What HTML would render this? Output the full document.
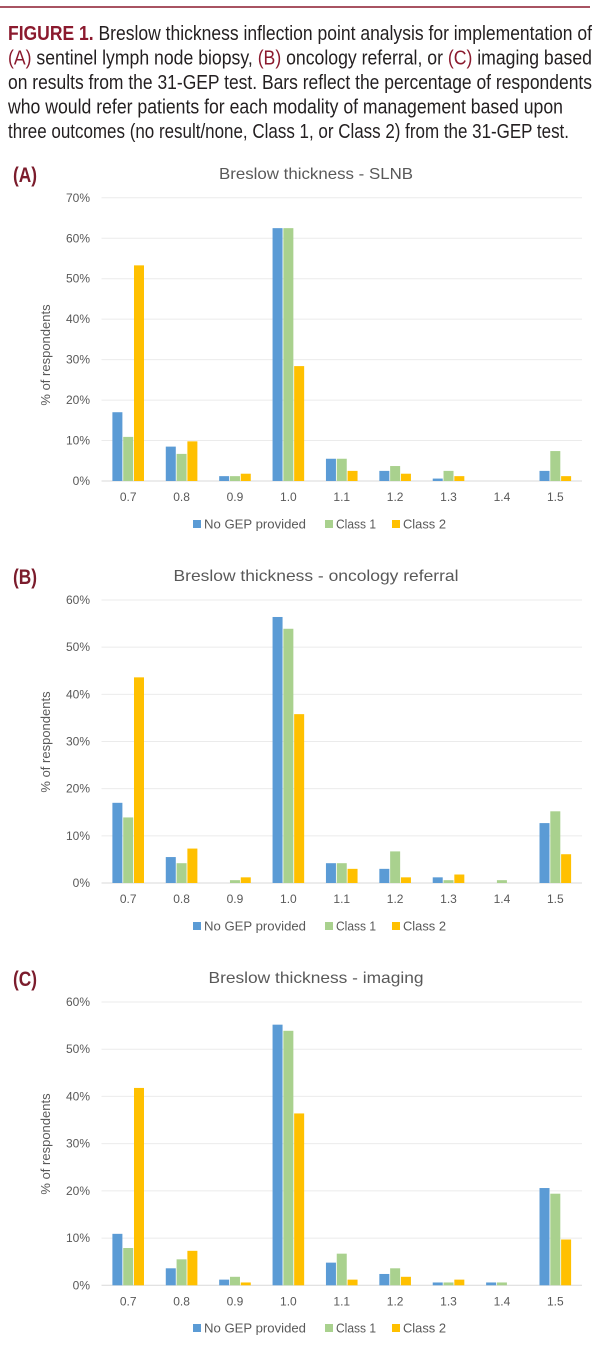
<!DOCTYPE html>
<html><head><meta charset="utf-8"><style>
html,body{margin:0;padding:0;background:#fff;}
svg{display:block;font-family:"Liberation Sans",sans-serif;}
</style></head><body>
<svg id="root" width="600" height="1348" viewBox="0 0 600 1348">
<line x1="0" y1="7" x2="590" y2="7" stroke="#8b1a2e" stroke-width="1.5"/>
<g font-size="20" fill="#231f20">
<text x="8" y="40" textLength="584" lengthAdjust="spacingAndGlyphs"><tspan fill="#8b1a2e" font-weight="bold">FIGURE 1.</tspan> Breslow thickness inflection point analysis for implementation of</text>
<text x="8" y="64.5" textLength="584" lengthAdjust="spacingAndGlyphs"><tspan fill="#8b1a2e">(A)</tspan> sentinel lymph node biopsy, <tspan fill="#8b1a2e">(B)</tspan> oncology referral, or <tspan fill="#8b1a2e">(C)</tspan> imaging based</text>
<text x="8" y="89" textLength="584" lengthAdjust="spacingAndGlyphs">on results from the 31-GEP test. Bars reflect the percentage of respondents</text>
<text x="8" y="113.5" textLength="555" lengthAdjust="spacingAndGlyphs">who would refer patients for each modality of management based upon</text>
<text x="8" y="138" textLength="561" lengthAdjust="spacingAndGlyphs">three outcomes (no result/none, Class 1, or Class 2) from the 31-GEP test.</text>
</g>
</svg>
<script>
const categories = ["0.7","0.8","0.9","1.0","1.1","1.2","1.3","1.4","1.5"];
const seriesNames = ["No GEP provided","Class 1","Class 2"];
const colors = ["#5b9bd5","#a9d18e","#ffc000"];
const slnbNoGep = [17,8.5,1.2,62.5,5.5,2.5,0.6,0,2.5];
const slnbClass1 = [10.9,6.7,1.2,62.5,5.5,3.7,2.5,0,7.4];
const slnbClass2 = [53.3,9.8,1.8,28.4,2.5,1.8,1.2,0,1.2];
const oncoNoGep = [17,5.5,0,56.4,4.2,3,1.2,0,12.7];
const oncoClass1 = [13.9,4.2,0.6,53.9,4.2,6.7,0.6,0.6,15.2];
const oncoClass2 = [43.6,7.3,1.2,35.8,3,1.2,1.8,0,6.1];
const imgNoGep = [10.9,3.6,1.2,55.2,4.8,2.4,0.6,0.6,20.6];
const imgClass1 = [7.9,5.5,1.8,53.9,6.7,3.6,0.6,0.6,19.4];
const imgClass2 = [41.8,7.3,0.6,36.4,1.2,1.8,1.2,0,9.7];
const ticksA = [0,10,20,30,40,50,60,70];
const ticksBC = [0,10,20,30,40,50,60];

const NS="http://www.w3.org/2000/svg";
const root=document.getElementById('root');
function mk(tag,attrs,parent,txt){const e=document.createElementNS(NS,tag);for(const k in attrs)e.setAttribute(k,attrs[k]);if(txt!==undefined)e.textContent=txt;parent.appendChild(e);return e;}

function chart(o){
  const g=mk('g',{},root);
  
  
  const L=101.5,R=582,step=(R-L)/categories.length;
  const maxV=o.ticks[o.ticks.length-1];
  const y=v=>o.y0-(v/maxV)*(o.y0-o.yTop);
  const x=i=>L+step*(i+0.5);
  const lab=mk('text',{x:13,y:o.labelY,'font-size':21,'font-weight':'bold',fill:'#7b1c2c',textLength:24,lengthAdjust:'spacingAndGlyphs'},g,o.letter);
  
  
  const t=mk('text',{x:316,y:o.titleY,'font-size':16,fill:'#595959','text-anchor':'middle',textLength:o.titleW,lengthAdjust:'spacingAndGlyphs'},g,o.title);
  
  
  o.ticks.forEach(v=>{
    const gl=mk('line',{x1:L,x2:R,y1:y(v),y2:y(v),stroke:v===0?'#d9d9d9':'#ebebeb','stroke-width':1},g);
    
    
    const tl=mk('text',{x:90,y:y(v)+4,'font-size':12,fill:'#595959','text-anchor':'end'},g,v+'%');
    
    
  });
  const yt=mk('text',{transform:`translate(50,${o.axisTitleY}) rotate(-90)`,'font-size':13,fill:'#595959','text-anchor':'middle'},g,'% of respondents');
  
  
  const bw=10,gap=0.8;
  o.series.forEach((s,si)=>{
    s.forEach((v,i)=>{
      if(v<=0)return;
      const bx=x(i)+(si-1)*(bw+gap)-bw/2;
      const r=mk('rect',{x:bx,y:y(v),width:bw,height:o.y0-y(v),fill:colors[si]},g);
      
      
    });
  });
  categories.forEach((c,i)=>{
    const xl=mk('text',{x:x(i),y:o.y0+20,'font-size':12,fill:'#595959','text-anchor':'middle'},g,c);
    
    
  });
  const lx=[193,325,392],lw=[102,40,43];
  seriesNames.forEach((n,i)=>{
    const sq=mk('rect',{x:lx[i],y:o.legendY-4,width:8,height:8,fill:colors[i]},g);
    
    
    const lt=mk('text',{x:lx[i]+11,y:o.legendY+4.5,'font-size':13,fill:'#595959',textLength:lw[i],lengthAdjust:'spacingAndGlyphs'},g,n);
    
    
  });
}
chart({id:'slnb',letter:'(A)',labelY:182,title:'Breslow thickness - SLNB',titleY:179,titleW:194,ticks:ticksA,y0:481,yTop:197.8,axisTitleY:355,legendY:524,series:[slnbNoGep,slnbClass1,slnbClass2]});
chart({id:'oncology',letter:'(B)',labelY:584,title:'Breslow thickness - oncology referral',titleY:581,titleW:285,ticks:ticksBC,y0:883,yTop:600,axisTitleY:742,legendY:926,series:[oncoNoGep,oncoClass1,oncoClass2]});
chart({id:'imaging',letter:'(C)',labelY:986,title:'Breslow thickness - imaging',titleY:983,titleW:215,ticks:ticksBC,y0:1285.3,yTop:1002,axisTitleY:1144,legendY:1328,series:[imgNoGep,imgClass1,imgClass2]});
</script>
</body></html>
